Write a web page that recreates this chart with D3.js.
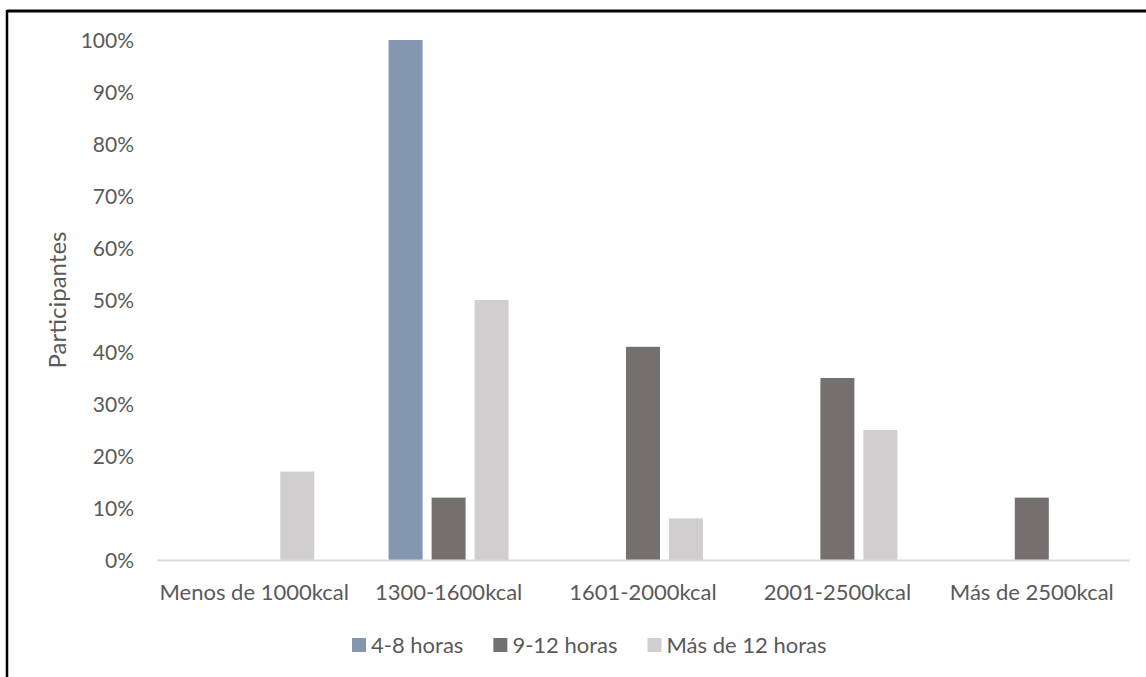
<!DOCTYPE html>
<html>
<head>
<meta charset="utf-8">
<script src="https://cdn.jsdelivr.net/npm/d3@7"></script>
<style>
  html, body { margin: 0; padding: 0; background: #fff; }
  svg { display: block; }
  text { font-family: Lato, "Open Sans", sans-serif; fill: #595959; }
</style>
</head>
<body>
<svg id="chart" width="1146" height="677"></svg>
<script>
const categories = ["Menos de 1000kcal", "1300-1600kcal", "1601-2000kcal", "2001-2500kcal", "Más de 2500kcal"];
const seriesNames = ["4-8 horas", "9-12 horas", "Más de 12 horas"];
const series48 = [0, 1.00, 0, 0, 0];
const series912 = [0, 0.12, 0.41, 0.35, 0.12];
const seriesMas12 = [0.17, 0.50, 0.08, 0.25, 0];
const yTicks = [0, 0.1, 0.2, 0.3, 0.4, 0.5, 0.6, 0.7, 0.8, 0.9, 1.0];
const colors = ["#8497B0", "#767171", "#D0CECE"];
const yTitle = "Participantes";

const seriesValues = [series48, series912, seriesMas12];
const svg = d3.select("#chart");

// frame (top and left edges visible)
svg.append("line").attr("x1", 7).attr("x2", 1146).attr("y1", 11).attr("y2", 11)
  .attr("stroke", "#000").attr("stroke-width", 3);
svg.append("line").attr("x1", 7).attr("x2", 7).attr("y1", 10).attr("y2", 677)
  .attr("stroke", "#000").attr("stroke-width", 2.5);

const x = d3.scaleBand().domain(categories).range([157, 1129]).paddingInner(0).paddingOuter(0);
const xs = d3.scaleBand().domain(seriesNames).range([-60, 60]).paddingInner(9 / 43).paddingOuter(0);
const y = d3.scaleLinear().domain([0, 1]).range([560, 40]);

// y axis labels
const yAxis = d3.axisLeft(y).tickValues(yTicks).tickFormat(d3.format(".0%")).tickSize(0).tickPadding(0);
const yg = svg.append("g").attr("transform", "translate(134,0)").call(yAxis);
yg.select(".domain").remove();
yg.selectAll("text").attr("font-size", 21).attr("font-family", "Lato").attr("fill", "#595959").attr("dy", "0.35em");

// bars
const groups = svg.append("g").selectAll("g")
  .data(seriesNames.map((s, i) => ({ name: s, values: seriesValues[i], color: colors[i] })))
  .join("g").attr("fill", d => d.color);
groups.selectAll("rect")
  .data(d => d.values.map((v, j) => ({ name: d.name, cat: categories[j], v })))
  .join("rect")
  .attr("x", d => x(d.cat) + x.bandwidth() / 2 + xs(d.name))
  .attr("width", xs.bandwidth())
  .attr("y", d => y(d.v))
  .attr("height", d => y(0) - y(d.v));

// x axis
const xAxis = d3.axisBottom(x).tickSize(0).tickPadding(0);
const xg = svg.append("g").attr("transform", `translate(0,${y(0)})`).call(xAxis);
xg.select(".domain").attr("stroke", "#D9D9D9").attr("stroke-width", 2);
xg.selectAll("text").attr("font-size", 22).attr("font-family", "Lato").attr("fill", "#595959")
  .attr("y", 32).attr("dy", "0.35em");

// y title
svg.append("text")
  .attr("transform", `translate(58,${y(0.5)}) rotate(-90)`)
  .attr("text-anchor", "middle").attr("dy", "0.35em")
  .attr("font-size", 24).text(yTitle);

// legend
const legend = svg.append("g").attr("transform", "translate(352,645)");
let lx = 0;
seriesNames.forEach((s, i) => {
  const g = legend.append("g").attr("transform", `translate(${lx},0)`);
  g.append("rect").attr("x", 0).attr("y", -7).attr("width", 14).attr("height", 14).attr("fill", colors[i]);
  const t = g.append("text").attr("x", 19).attr("dy", "0.35em").attr("font-size", 22).text(s);
  lx += 19 + t.node().getComputedTextLength() + 30;
});
</script>
</body>
</html>
